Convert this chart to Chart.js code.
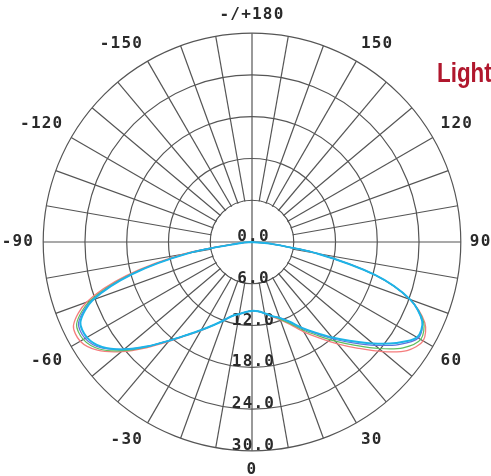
<!DOCTYPE html>
<html>
<head>
<meta charset="utf-8">
<script src="https://cdn.jsdelivr.net/npm/chart.js@4.4.1/dist/chart.umd.min.js"></script>
<style>
  html, body { margin: 0; padding: 0; background: #fff; }
  #wrap { position: relative; width: 491px; height: 476px; overflow: hidden; }
  #wrap canvas { position: absolute; left: -4px; top: 5px; }
  #tag { position: absolute; left: 437px; top: 58px; font-family: "Liberation Sans Narrow", "Arial Narrow", "Liberation Sans", sans-serif;
         font-weight: bold; font-size: 28px; line-height: 30px; color: #b0172d; white-space: nowrap;
         transform: scaleX(0.8); transform-origin: 0 0; }
</style>
</head>
<body>
<div id="wrap">
  <canvas id="c" width="502" height="474"></canvas>
  <div id="tag">Light</div>
</div>
<script>
// Gamma angles (degrees) in drawing order: from 0 (bottom) clockwise through -90, ±180, +90
const gammaAngles = [0, -5, -10, -15, -20, -25, -30, -35, -40, -45, -50, -55, -60, -65, -70, -75, -80, -85, -90,
  -95, -100, -105, -110, -115, -120, -125, -130, -135, -140, -145, -150, -155, -160, -165, -170, -175,
  180, 175, 170, 165, 160, 155, 150, 145, 140, 135, 130, 125, 120, 115, 110, 105, 100, 95,
  90, 85, 80, 75, 70, 65, 60, 55, 50, 45, 40, 35, 30, 25, 20, 15, 10, 5];

// Angle tick labels shown around the diagram
const angleLabelValues = [0, 30, 60, 90, 120, 150, 180, -150, -120, -90, -60, -30];
const angleLabelTexts  = ['0', '30', '60', '90', '120', '150', '-/+180', '-150', '-120', '-90', '-60', '-30'];

// Radial tick values
const radialTicks = [0, 6, 12, 18, 24, 30];

// Intensity series (one per C-plane), same order as gammaAngles
const seriesCyan = [9.9,
  10.1, 10.5, 11.0, 12.0, 13.2, 14.6, 16.3, 18.5, 21.2, 24.0, 26.3, 27.4, 27.2, 24.3, 17.8, 9.2, 1.5, 0,
  0, 0, 0, 0, 0, 0, 0, 0, 0, 0, 0, 0, 0, 0, 0, 0, 0,
  0,
  0, 0, 0, 0, 0, 0, 0, 0, 0, 0, 0, 0, 0, 0, 0, 0, 0,
  0, 2.5, 9.5, 18.3, 24.2, 27.0, 27.4, 25.3, 22.7, 20.1, 17.9, 15.9, 14.2, 12.6, 11.6, 11.0, 10.4, 10.0];

const seriesBlue = [9.9,
  10.1, 10.5, 11.0, 12.0, 13.2, 14.6, 16.3, 18.5, 21.2, 24.0, 26.5, 27.7, 27.5, 24.5, 18.0, 9.3, 1.5, 0,
  0, 0, 0, 0, 0, 0, 0, 0, 0, 0, 0, 0, 0, 0, 0, 0, 0,
  0,
  0, 0, 0, 0, 0, 0, 0, 0, 0, 0, 0, 0, 0, 0, 0, 0, 0,
  0, 2.5, 9.5, 18.3, 24.2, 27.0, 27.6, 25.7, 23.1, 20.5, 18.2, 16.1, 14.3, 12.6, 11.6, 11.0, 10.4, 10.0];

const seriesGreen = [9.9,
  10.1, 10.5, 11.0, 12.0, 13.2, 14.6, 16.3, 18.5, 21.3, 24.3, 26.8, 28.0, 27.8, 24.8, 18.2, 9.5, 1.6, 0,
  0, 0, 0, 0, 0, 0, 0, 0, 0, 0, 0, 0, 0, 0, 0, 0, 0,
  0,
  0, 0, 0, 0, 0, 0, 0, 0, 0, 0, 0, 0, 0, 0, 0, 0, 0,
  0, 2.5, 9.5, 18.3, 24.2, 27.2, 28.0, 26.5, 23.8, 21.0, 18.6, 16.4, 14.6, 12.9, 11.8, 11.0, 10.4, 10.0];

const seriesRed = [9.9,
  10.1, 10.5, 11.0, 12.0, 13.2, 14.7, 16.4, 18.7, 21.5, 24.5, 27.1, 28.5, 28.3, 25.3, 18.7, 9.9, 1.8, 0,
  0, 0, 0, 0, 0, 0, 0, 0, 0, 0, 0, 0, 0, 0, 0, 0, 0,
  0,
  0, 0, 0, 0, 0, 0, 0, 0, 0, 0, 0, 0, 0, 0, 0, 0, 0,
  0, 2.5, 9.5, 18.3, 24.2, 27.4, 28.4, 27.2, 24.5, 21.6, 19.1, 16.8, 14.9, 13.1, 11.9, 11.1, 10.4, 10.0];

const gridColor = '#555555';
const gridWidth = 1.2;
const textColor = '#2a2a2a';
const monoFont = '"DejaVu Sans Mono", monospace';
const monoSize = 16;
const monoWeight = 'bold';
const spacing = '1.2px';

const polarDecor = {
  id: 'polarDecor',
  beforeLayout(chart) { chart.ctx.letterSpacing = spacing; },
  beforeDraw(chart) { chart.ctx.letterSpacing = spacing; },
  beforeDatasetsDraw(chart) {
    const s = chart.scales.r;
    const ctx = chart.ctx;
    const rIn = s.getDistanceFromCenterForValue(radialTicks[1]);
    ctx.save();
    // inner circle: spokes only start at the first ring
    ctx.beginPath();
    ctx.arc(s.xCenter, s.yCenter, rIn - 0.8, 0, Math.PI * 2);
    ctx.fillStyle = '#fff';
    ctx.fill();
    ctx.strokeStyle = gridColor;
    ctx.lineWidth = gridWidth;
    ctx.beginPath();
    [0, -90, 180, 90].forEach(g => {
      const p = s.getPointPosition(gammaAngles.indexOf(g), rIn);
      ctx.moveTo(s.xCenter, s.yCenter);
      ctx.lineTo(p.x, p.y);
    });
    ctx.stroke();
    // radial tick labels along the 0° axis
    ctx.letterSpacing = spacing;
    ctx.font = monoWeight + ' ' + monoSize + 'px ' + monoFont;
    ctx.fillStyle = textColor;
    ctx.textAlign = 'center';
    ctx.textBaseline = 'alphabetic';
    radialTicks.forEach(v => {
      const d = s.getDistanceFromCenterForValue(v);
      ctx.fillText(v.toFixed(1), s.xCenter + 1.5, s.yCenter + d - 1);
    });
    ctx.restore();
  }
};

new Chart(document.getElementById('c'), {
  type: 'radar',
  data: {
    labels: gammaAngles,
    datasets: [
      { label: 'C-plane 4', data: seriesCyan,  borderColor: 'rgb(30,180,232)',  borderWidth: 2 },
      { label: 'C-plane 3', data: seriesBlue,  borderColor: 'rgb(95,115,220)',  borderWidth: 1.2 },
      { label: 'C-plane 2', data: seriesGreen, borderColor: 'rgb(95,190,95)',   borderWidth: 1.2 },
      { label: 'C-plane 1', data: seriesRed,   borderColor: 'rgb(245,125,125)', borderWidth: 1.3 }
    ]
  },
  options: {
    responsive: false,
    animation: false,
    devicePixelRatio: 1,
    layout: { padding: 0 },
    elements: {
      line: { tension: 0.3, fill: false },
      point: { radius: 0, hoverRadius: 0 }
    },
    plugins: { legend: { display: false }, tooltip: { enabled: false } },
    scales: {
      r: {
        startAngle: 180,
        min: 0,
        max: 30,
        ticks: { display: false, stepSize: 6 },
        grid: { circular: true, color: gridColor, lineWidth: gridWidth },
        angleLines: {
          display: true,
          color: gridColor,
          lineWidth: ctx => (gammaAngles[ctx.index] % 10 === 0 ? gridWidth : 0)
        },
        pointLabels: {
          padding: 9,
          color: textColor,
          font: { family: monoFont, size: monoSize, weight: monoWeight },
          callback: (label) => {
            const i = angleLabelValues.indexOf(Number(label));
            return i >= 0 ? angleLabelTexts[i] : '';
          }
        }
      }
    }
  },
  plugins: [polarDecor]
});
</script>
</body>
</html>
